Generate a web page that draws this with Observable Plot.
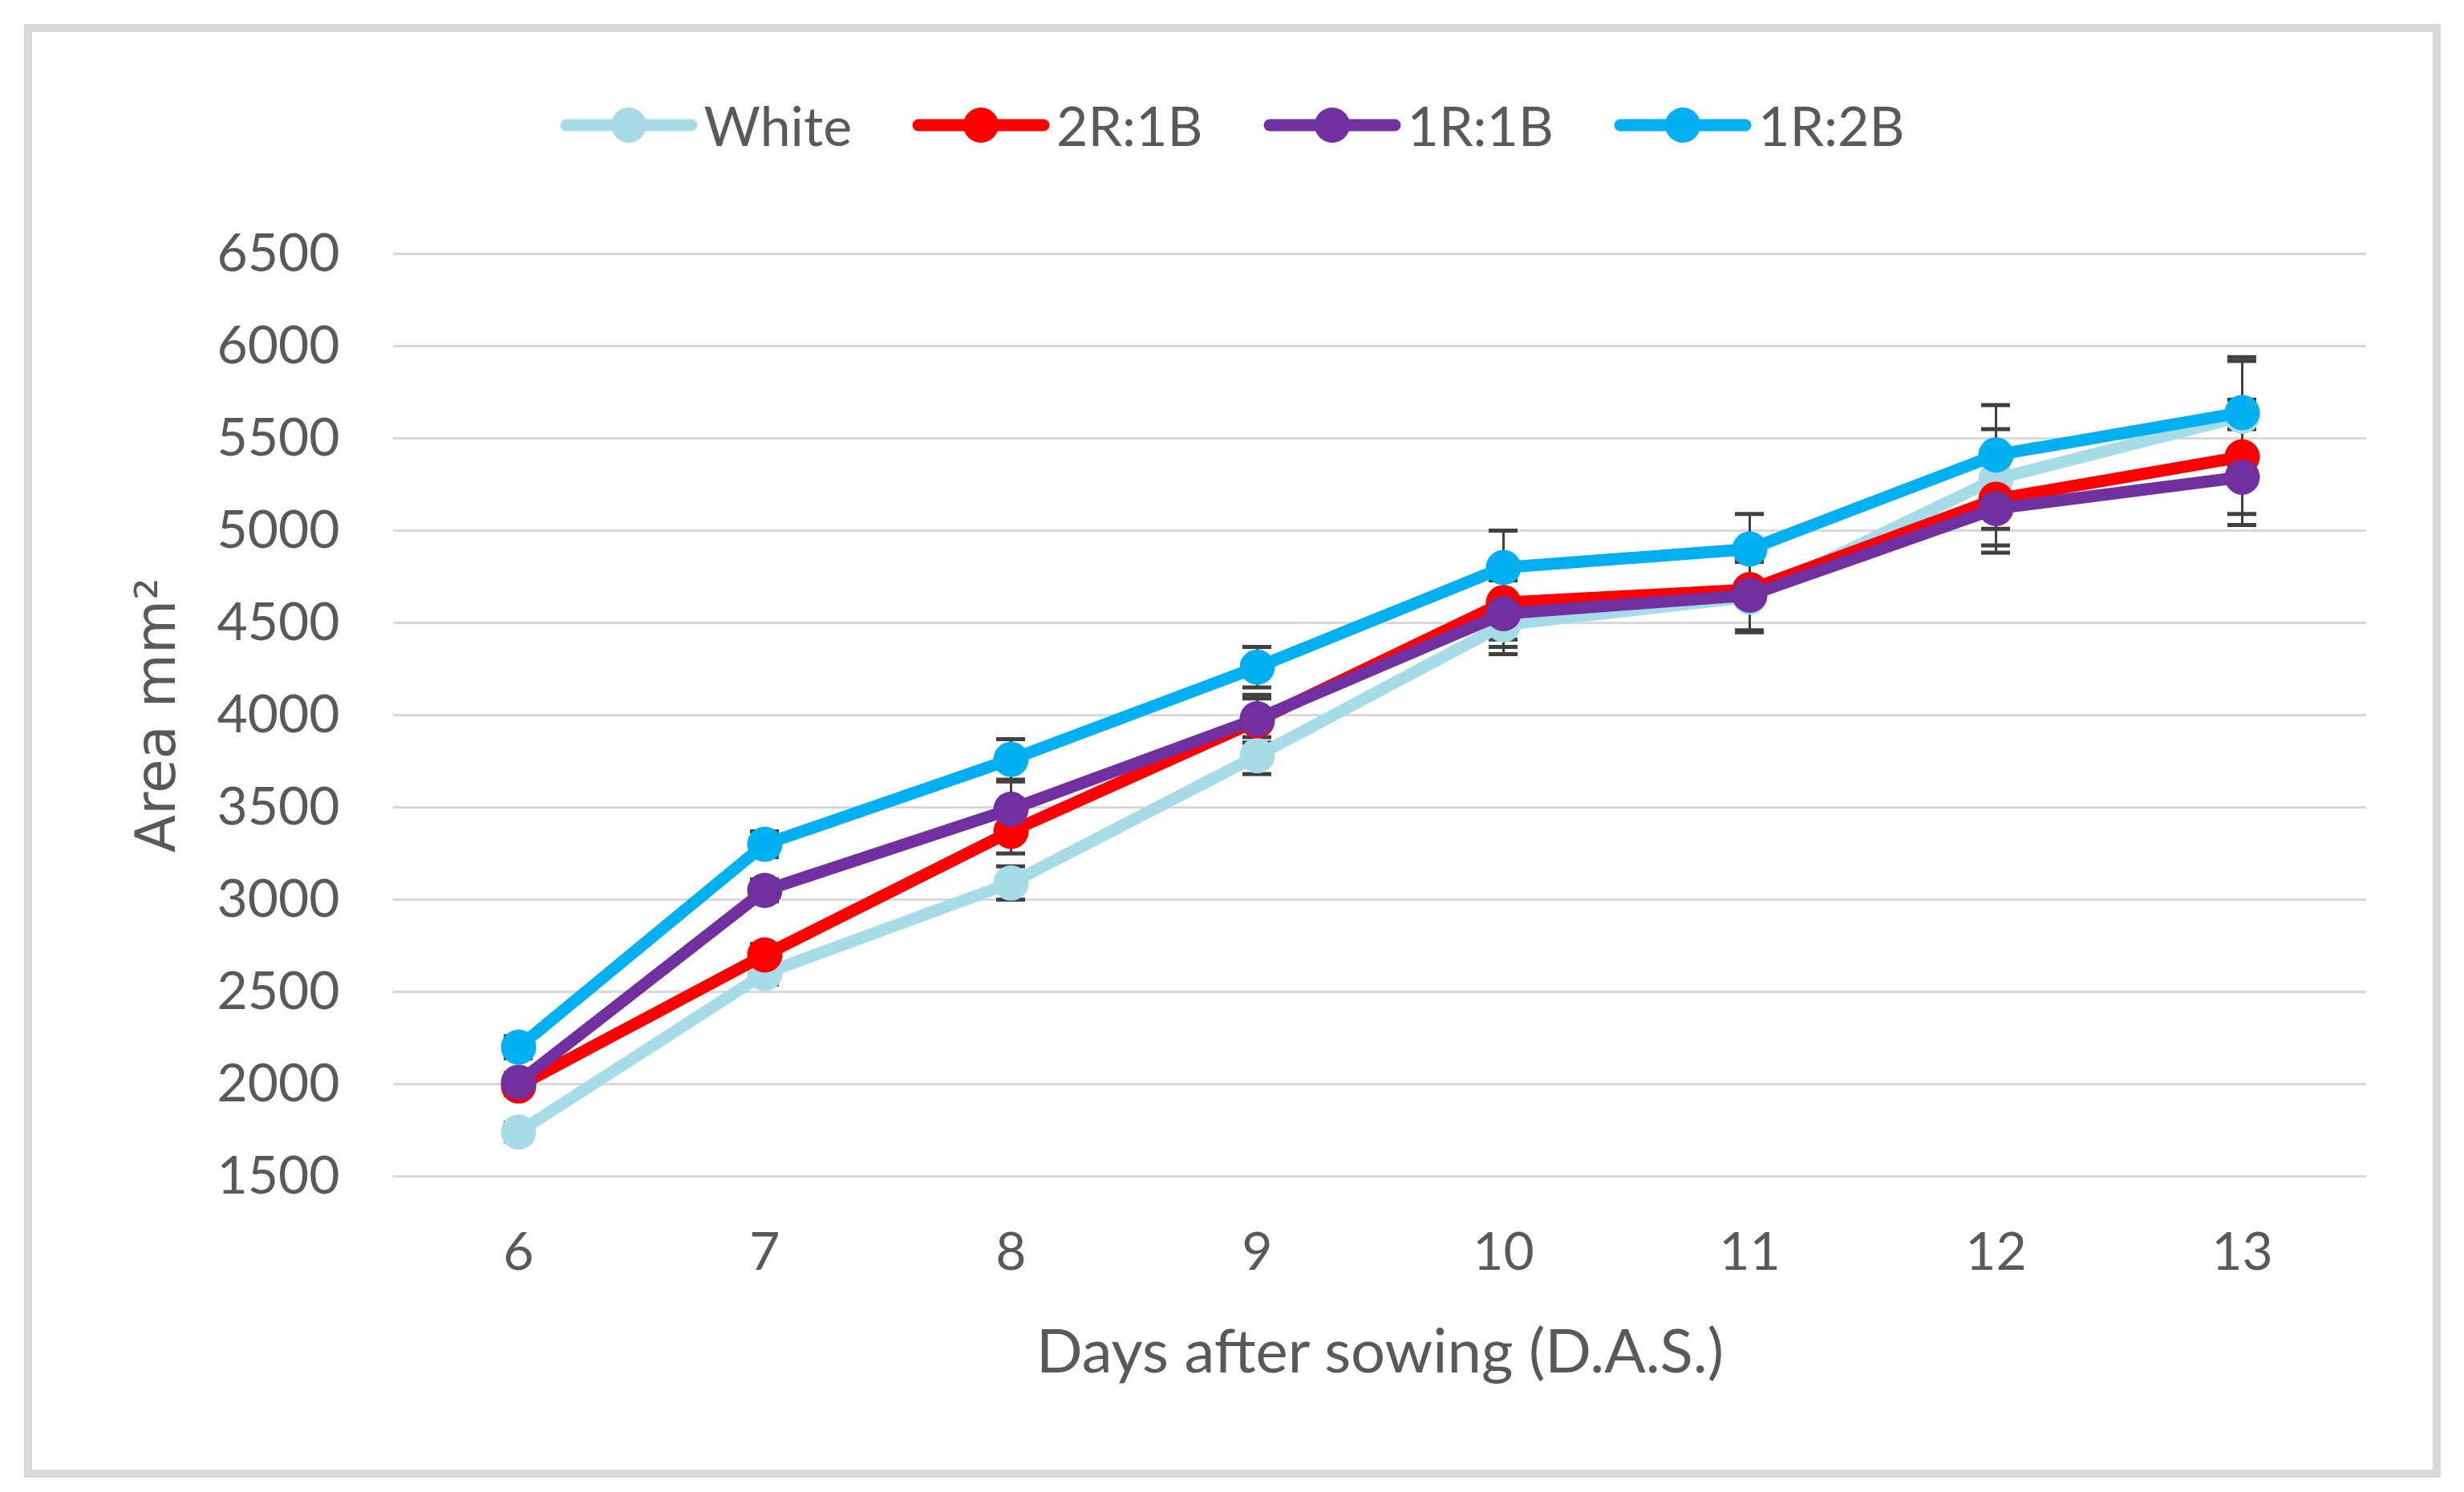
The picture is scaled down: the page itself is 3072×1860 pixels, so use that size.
<!DOCTYPE html>
<html>
<head>
<meta charset="utf-8">
<script src="https://cdn.jsdelivr.net/npm/d3@7"></script>
<script src="https://cdn.jsdelivr.net/npm/@observablehq/plot@0.6"></script>
<style>
  html, body { margin: 0; padding: 0; background: #ffffff; }
  body { width: 3072px; height: 1860px; position: relative; overflow: hidden; }
  #frame { position: absolute; left: 30px; top: 30px; width: 3013px; height: 1812px;
           border: 10px solid #d9d9d9; box-sizing: border-box; }
  #legend { position: absolute; left: 0; top: 116px; width: 3072px; height: 80px;
            display: flex; justify-content: center; align-items: center; gap: 75px;
            font-family: Lato, sans-serif; font-size: 68px; color: #595959; }
  .item { display: flex; align-items: center; }
  .item span { margin-left: 8px; line-height: 1; }
  #chart { position: absolute; left: 0; top: 220px; }
</style>
</head>
<body>
<div id="frame"></div>
<div id="legend"></div>
<div id="chart"></div>
<script>
// ---- data ----
const days = [6, 7, 8, 9, 10, 11, 12, 13];
const seriesNames = ["White", "2R:1B", "1R:1B", "1R:2B"];
const seriesColors = ["#a6dce8", "#ff0000", "#7030a0", "#00b0f0"];
const whiteArea = [1740, 2600, 3090, 3780, 4490, 4640, 5280, 5620];
const r2b1Area  = [1990, 2700, 3370, 3970, 4610, 4680, 5170, 5400];
const r1b1Area  = [2010, 3050, 3490, 3980, 4550, 4650, 5120, 5290];
const r1b2Area  = [2200, 3300, 3760, 4260, 4800, 4900, 5410, 5640];
const whiteErr  = [50, 60, 90, 100, 160, 190, 270, 300];
const r2b1Err   = [50, 60, 120, 120, 200, 220, 250, 310];
const r1b1Err   = [50, 60, 150, 130, 180, 200, 240, 260];
const r1b2Err   = [60, 70, 110, 110, 200, 190, 270, 300];
const yTicks = [1500, 2000, 2500, 3000, 3500, 4000, 4500, 5000, 5500, 6000, 6500];
const xTitle = "Days after sowing (D.A.S.)";
const yTitle = "Area mm²";

const areas = [whiteArea, r2b1Area, r1b1Area, r1b2Area];
const errs = [whiteErr, r2b1Err, r1b1Err, r1b2Err];
const rows = [];
seriesNames.forEach((s, si) => {
  days.forEach((d, di) => {
    rows.push({series: s, day: d, area: areas[si][di], lo: areas[si][di] - errs[si][di], hi: areas[si][di] + errs[si][di]});
  });
});

// ---- legend (HTML) ----
const legend = document.getElementById("legend");
seriesNames.forEach((s, i) => {
  const item = document.createElement("div");
  item.className = "item";
  item.innerHTML = `<svg width="172" height="52"><line x1="8" y1="26" x2="164" y2="26" stroke="${seriesColors[i]}" stroke-width="15" stroke-linecap="round"/><circle cx="86" cy="26" r="22" fill="${seriesColors[i]}"/></svg><span>${s}</span>`;
  legend.appendChild(item);
});

// ---- chart ----
const errColor = "#404040";
const marks = [
  Plot.ruleY(yTicks, {stroke: "#d9d9d9", strokeWidth: 3}),
  Plot.ruleX(rows, {x: "day", y1: "lo", y2: "hi", stroke: errColor, strokeWidth: 3}),
  Plot.ruleY(rows, {x1: "day", x2: "day", y: "hi", insetLeft: -18, insetRight: -18, stroke: errColor, strokeWidth: 5}),
  Plot.ruleY(rows, {x1: "day", x2: "day", y: "lo", insetLeft: -18, insetRight: -18, stroke: errColor, strokeWidth: 5})
];
seriesNames.forEach((s, i) => {
  const data = rows.filter(r => r.series === s);
  marks.push(Plot.line(data, {x: "day", y: "area", stroke: seriesColors[i], strokeWidth: 15, strokeLinecap: "round", strokeLinejoin: "round"}));
  marks.push(Plot.dot(data, {x: "day", y: "area", r: 22, fill: seriesColors[i], stroke: "none"}));
});
marks.push(Plot.text([xTitle], {frameAnchor: "bottom", textAnchor: "middle", dy: 220, lineAnchor: "middle", fontSize: 76, fill: "#595959", fontFamily: "Lato"}));
marks.push(Plot.text([yTitle], {frameAnchor: "left", textAnchor: "middle", dx: -295, rotate: -90, lineAnchor: "middle", fontSize: 69, fill: "#595959", fontFamily: "DejaVu Sans"}));

const chart = Plot.plot({
  width: 3072,
  height: 1600,
  marginTop: 96,
  marginBottom: 354,
  marginLeft: 490,
  marginRight: 122,
  style: {fontFamily: "Lato", fontSize: "66px", color: "#595959", background: "transparent"},
  x: {type: "point", domain: days, padding: 0.5, tickSize: 0, tickPadding: 70, label: null},
  y: {domain: [1500, 6500], ticks: yTicks, tickSize: 0, tickPadding: 67, label: null, tickFormat: d => String(d)},
  marks
});
document.getElementById("chart").appendChild(chart);
</script>
</body>
</html>
